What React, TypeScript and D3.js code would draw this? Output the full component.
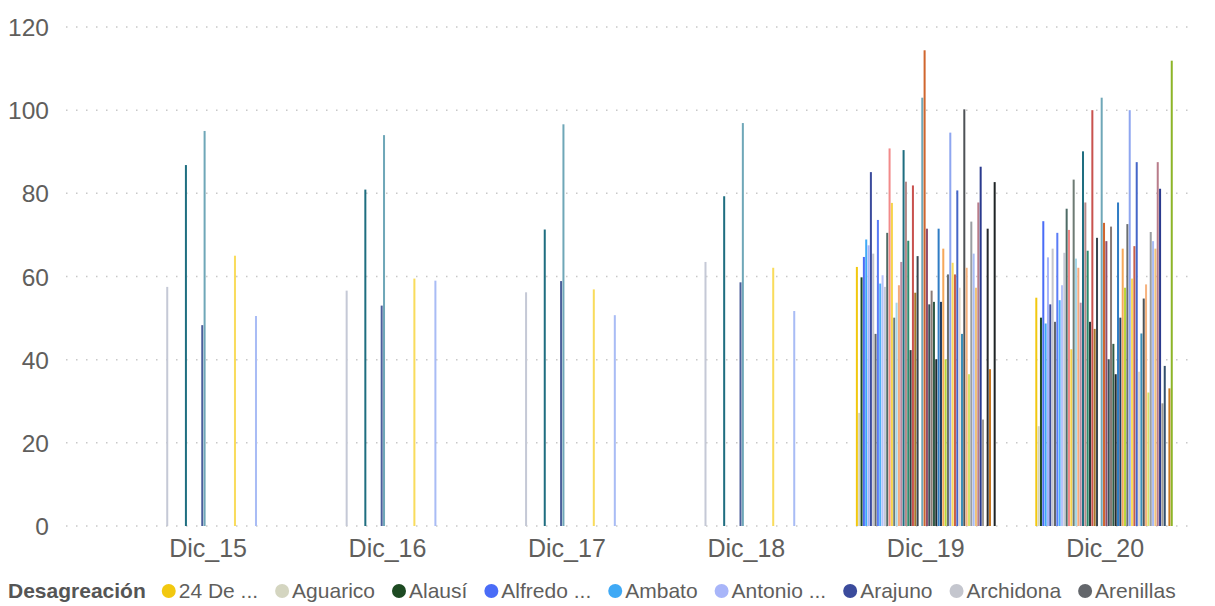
import React, { useMemo } from "react";
import * as d3 from "d3";

const categories = ["Dic_15", "Dic_16", "Dic_17", "Dic_18", "Dic_19", "Dic_20"];

const seriesNames = [
  "24 De Mayo", "Aguarico", "Alausí", "Alfredo Baquerizo Moreno", "Ambato", "Antonio Ante", "Arajuno", "Archidona", "Arenillas", "Arosemena Tola",
  "Atacames", "Atahualpa", "Azogues", "Baba", "Babahoyo", "Balao", "Balsas", "Balzar", "Baños de Agua Santa", "Biblián",
  "Bolívar", "Buena Fé", "Caluma", "Calvas", "Camilo Ponce Enríquez", "Cañar", "Cascales", "Catamayo", "Cayambe", "Celica",
  "Centinela del Cóndor", "Cevallos", "Chaguarpamba", "Chambo", "Chilla", "Chillanes", "Chimbo", "Chinchipe", "Chone", "Chordeleg",
  "Chunchi", "Colimes", "Colta", "Coronel Marcelino Maridueña", "Cotacachi", "Cuenca", "Cumandá", "Cuyabeno", "Daule", "Déleg",
  "Durán", "Echeandía", "El Carmen", "El Chaco", "El Empalme", "El Guabo", "El Pan", "El Tambo", "Eloy Alfaro", "Esmeraldas",
];

const seriesColors = [
  "#F2C80F", "#D4D5C0", "#1D4A22", "#4A6CF7", "#3FA9F5", "#A8B5F9", "#3B4B9C", "#C4C6CE", "#63666B", "#5A7CF6",
  "#4DB1F7", "#B6C2FA", "#C5C9D6", "#4E6B66", "#F28A8A", "#F6D44B", "#6E7B74", "#A7D8E8", "#F4A97E", "#B98BA3",
  "#1F6E80", "#B58A8A", "#2E8B6E", "#2D3A3A", "#C9524E", "#A5782A", "#39464F", "#4B5E9A", "#6FA7B8", "#D0662E",
  "#8E4E6E", "#3A5058", "#8A7B76", "#2F5A46", "#222A2E", "#2F7CC4", "#1E3A5F", "#F6A85A", "#B8D63A", "#6A6E70",
  "#8EA6F0", "#F9DC5C", "#C8604A", "#4566C8", "#E3D8C8", "#3A8EB8", "#4E5256", "#F6B27E", "#D4E36A", "#9A9EA2",
  "#A9BCF5", "#F0C27A", "#B87C8A", "#2A3A8E", "#A09C96", "#34506E", "#26292C", "#C87820", "#8DB528", "#1F2426",
];

const valuesDic15 = [
  null, null, null, null, null, null, null, null, null, null,
  null, null, 57.5, null, null, null, null, null, null, null,
  86.8, null, null, null, null, null, null, 48.3, 95.0, null,
  null, null, null, null, null, null, null, null, null, null,
  null, 65.0, null, null, null, null, null, null, null, null,
  50.5, null, null, null, null, null, null, null, null, null,
];
const valuesDic16 = [
  null, null, null, null, null, null, null, null, null, null,
  null, null, 56.6, null, null, null, null, null, null, null,
  80.9, null, null, null, null, null, null, 53.0, 94.0, null,
  null, null, null, null, null, null, null, null, null, null,
  null, 59.5, null, null, null, null, null, null, null, null,
  59.0, null, null, null, null, null, null, null, null, null,
];
const valuesDic17 = [
  null, null, null, null, null, null, null, null, null, null,
  null, null, 56.2, null, null, null, null, null, null, null,
  71.3, null, null, null, null, null, null, 58.9, 96.6, null,
  null, null, null, null, null, null, null, null, null, null,
  null, 56.9, null, null, null, null, null, null, null, null,
  50.7, null, null, null, null, null, null, null, null, null,
];
const valuesDic18 = [
  null, null, null, null, null, null, null, null, null, null,
  null, null, 63.5, null, null, null, null, null, null, null,
  79.3, null, null, null, null, null, null, 58.6, 96.9, null,
  null, null, null, null, null, null, null, null, null, null,
  null, 62.1, null, null, null, null, null, null, null, null,
  51.7, null, null, null, null, null, null, null, null, null,
];
const valuesDic19 = [
  62.3, 27.2, 59.8, 64.7, 68.9, 67.5, 85.1, 65.5, 46.2, 73.6,
  58.3, 60.3, 57.5, 70.5, 90.8, 77.7, 50.1, 53.7, 57.9, 63.5,
  90.4, 82.8, 68.6, 42.3, 81.9, 56.1, 64.9, null, 103.0, 114.4,
  71.5, 53.3, 56.6, 53.9, 40.1, 71.5, 53.9, 66.7, 40.1, 60.5,
  94.6, 63.3, 60.5, 80.7, 57.3, 46.2, 100.2, 62.1, 36.5, 73.2,
  65.5, 57.3, 77.8, 86.4, 25.6, null, 71.5, 37.7, null, 82.7,
];
const valuesDic20 = [
  54.9, 24.0, 50.1, 73.3, 48.7, 64.6, 53.3, 66.7, 49.1, 70.5,
  54.3, 57.9, 65.7, 76.3, 71.2, 42.5, 83.3, 64.3, 62.1, 53.7,
  90.1, 77.8, 66.2, 49.1, 100.0, 47.4, 69.3, null, 103.0, 72.9,
  68.5, 40.1, 72.0, 43.8, 36.5, 77.8, 50.1, 66.7, 57.3, 72.6,
  100.0, 59.5, 67.3, 87.5, 37.1, 46.3, 54.7, 58.1, 32.1, 70.7,
  68.5, 66.7, 87.5, 81.1, 29.5, 38.5, null, 33.1, 111.9, null,
];

const yTicks = [0, 20, 40, 60, 80, 100, 120];
const legendTitle = "Desagreación";
const legendCount = 9;

const valuesByCategory = [valuesDic15, valuesDic16, valuesDic17, valuesDic18, valuesDic19, valuesDic20];

const W = 1215;
const H = 606;
const FONT = "'Liberation Sans', Arial, sans-serif";

function measure(text: string, font: string): number {
  const c = document.createElement("canvas");
  const ctx = c.getContext("2d");
  if (!ctx) return text.length * 10;
  ctx.font = font;
  return ctx.measureText(text).width;
}

function truncate(name: string, maxW: number, font: string): string {
  if (measure(name, font) <= maxW) return name;
  const words = name.split(" ");
  let out = words[0];
  for (let i = 1; i < words.length; i++) {
    const cand = out + " " + words[i];
    if (measure(cand + " ...", font) > maxW) break;
    out = cand;
  }
  return out + " ...";
}

export default function App() {
  const x = d3.scaleBand<string>().domain(categories).range([118.4, 1194.9]).paddingInner(0).paddingOuter(0);
  const groupW = seriesNames.length * 2.33;
  const xs = d3
    .scaleBand<number>()
    .domain(d3.range(seriesNames.length))
    .range([0, groupW])
    .paddingInner(0.14)
    .paddingOuter(0);
  const y = d3.scaleLinear().domain([0, 120]).range([526, 27]);
  const groupOffset = (x.bandwidth() - groupW) / 2;

  const legend = useMemo(() => {
    const labelFont = `21px ${FONT}`;
    const titleFont = `bold 21px ${FONT}`;
    const titleW = measure(legendTitle, titleFont);
    let cursor = 8 + titleW + 16;
    const items: { cx: number; tx: number; label: string; color: string }[] = [];
    for (let i = 0; i < legendCount; i++) {
      const label = truncate(seriesNames[i], 100, labelFont);
      const cx = cursor + 7;
      const tx = cursor + 17;
      items.push({ cx, tx, label, color: seriesColors[i] });
      cursor = tx + measure(label, labelFont) + 17;
    }
    return items;
  }, []);

  return (
    <svg
      width={W}
      height={H}
      viewBox={`0 0 ${W} ${H}`}
      style={{ position: "absolute", left: 0, top: 0, background: "#fff" }}
    >
      <g>
        {yTicks.map((t) => (
          <g key={t}>
            <line
              x1={66}
              x2={1196}
              y1={y(t)}
              y2={y(t)}
              stroke="#c8c8c8"
              strokeWidth={1.5}
              strokeDasharray="1.5 8.5"
            />
            <text
              x={49}
              y={y(t) + 9}
              textAnchor="end"
              fontFamily={FONT}
              fontSize={24.5}
              fill="#605E5C"
            >
              {t}
            </text>
          </g>
        ))}
      </g>
      <g>
        {categories.map((cat, ci) => (
          <g key={cat} transform={`translate(${(x(cat) ?? 0) + groupOffset},0)`}>
            {valuesByCategory[ci].map((v, si) =>
              v == null ? null : (
                <rect
                  key={si}
                  x={xs(si)}
                  y={y(v)}
                  width={xs.bandwidth()}
                  height={y(0) - y(v)}
                  fill={seriesColors[si]}
                />
              )
            )}
          </g>
        ))}
      </g>
      <g>
        {categories.map((cat) => (
          <text
            key={cat}
            x={(x(cat) ?? 0) + x.bandwidth() / 2}
            y={557}
            textAnchor="middle"
            fontFamily={FONT}
            fontSize={25}
            fill="#605E5C"
          >
            {cat}
          </text>
        ))}
      </g>
      <g>
        <text x={8} y={598} fontFamily={FONT} fontSize={21} fontWeight="bold" fill="#555">
          {legendTitle}
        </text>
        {legend.map((it, i) => (
          <g key={i}>
            <circle cx={it.cx} cy={591} r={7} fill={it.color} />
            <text x={it.tx} y={598} fontFamily={FONT} fontSize={21} fill="#605E5C">
              {it.label}
            </text>
          </g>
        ))}
      </g>
    </svg>
  );
}
